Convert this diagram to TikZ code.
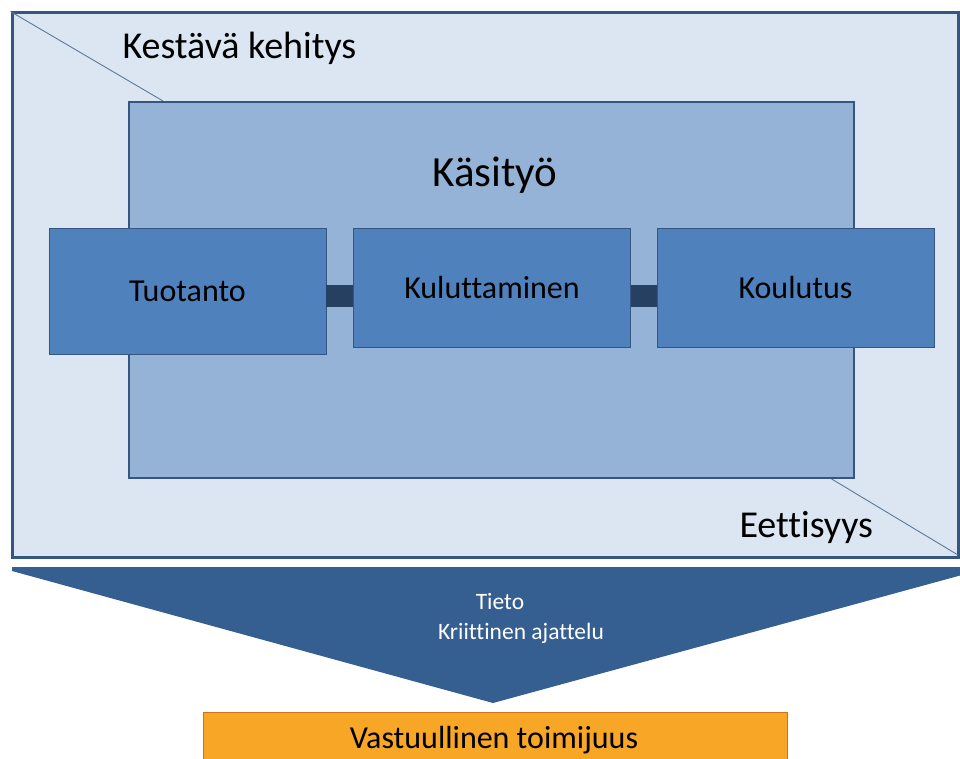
\documentclass[tikz,border=0pt]{standalone}
\usepackage{fontspec}
\setmainfont{Carlito}[Ligatures=CommonOff]
\usepackage{tikz}
\usetikzlibrary{positioning,calc}
\definecolor{FrameBlue}{RGB}{52,86,128}
\definecolor{PaleBlue}{RGB}{220,230,242}
\definecolor{MidBlue}{RGB}{149,179,215}
\definecolor{BoxBlue}{RGB}{79,129,189}
\definecolor{NavyLink}{RGB}{37,64,97}
\definecolor{BannerBlue}{RGB}{54,95,145}
\definecolor{ActOrange}{RGB}{247,166,38}
\definecolor{ActBorder}{RGB}{214,110,30}
\tikzset{
	field/.style={draw=FrameBlue,fill=PaleBlue,line width=3pt,minimum width=946pt,minimum height=544pt,inner sep=0pt},
	craft/.style={draw=FrameBlue,fill=MidBlue,line width=2pt,minimum width=725pt,minimum height=376pt,inner sep=0pt},
	part/.style={draw=FrameBlue,fill=BoxBlue,line width=0.8pt,minimum width=277pt,inner sep=0pt,font=\fontsize{32}{36}\selectfont},
	link/.style={draw=NavyLink,line width=22pt},
	slash/.style={draw=FrameBlue!80,line width=0.9pt},
	act/.style={draw=ActBorder,fill=ActOrange,line width=1pt,minimum width=584pt,minimum height=56pt,inner sep=0pt},
	banner text/.style={text=white,font=\fontsize{23.5}{28}\selectfont},
}

\begin{document}
\begin{tikzpicture}[x=1pt,y=-1pt]
	\useasboundingbox (0,0) rectangle (960,759);
	% outer field
	\node[field] (kestava) at (485,285) {};
	\draw[slash] (kestava.north west) -- (163,101);
	\draw[slash] (830,478) -- (958,555);
	\node[anchor=west,font=\fontsize{38}{42}\selectfont] (keslbl) at (119,48) {Kestävä kehitys};
	\node[anchor=west,font=\fontsize{38}{42}\selectfont] (eetlbl) at (736,527) {Eettisyys};
	% craft area
	\node[craft] (kasityo) at (491.5,290) {};
	\node[font=\fontsize{43}{47}\selectfont] (kaslbl) at (495,175) {Käsityö};
	% three parts
	\node[part,minimum height=126pt] (tuot) at (187.5,291) {Tuotanto};
	\node[part,minimum height=119pt] (kulu) at (492,287.5) {Kuluttaminen};
	\node[part,minimum height=119pt] (koul) at (795.5,287.5) {Koulutus};
	\draw[link] ([yshift=-5pt]tuot.east) -- ([yshift=-8.5pt]kulu.west);
	\draw[link] ([yshift=-8.5pt]kulu.east) -- ([yshift=-8.5pt]koul.west);
	% banner
	\fill[BannerBlue] (12,567) -- (962,567) -- (962,575) -- (493,703) -- (12,571) -- cycle;
	\node[banner text] (tieto) at (500,601) {Tieto};
	\node[banner text] (kriit) at (521,633) {Kriittinen ajattelu};
	% action
	\node[act] (vastuu) at (495,740) {};
	\node[font=\fontsize{32}{36}\selectfont] (vaslbl) at (494,740) {Vastuullinen toimijuus};
\end{tikzpicture}
\end{document}
